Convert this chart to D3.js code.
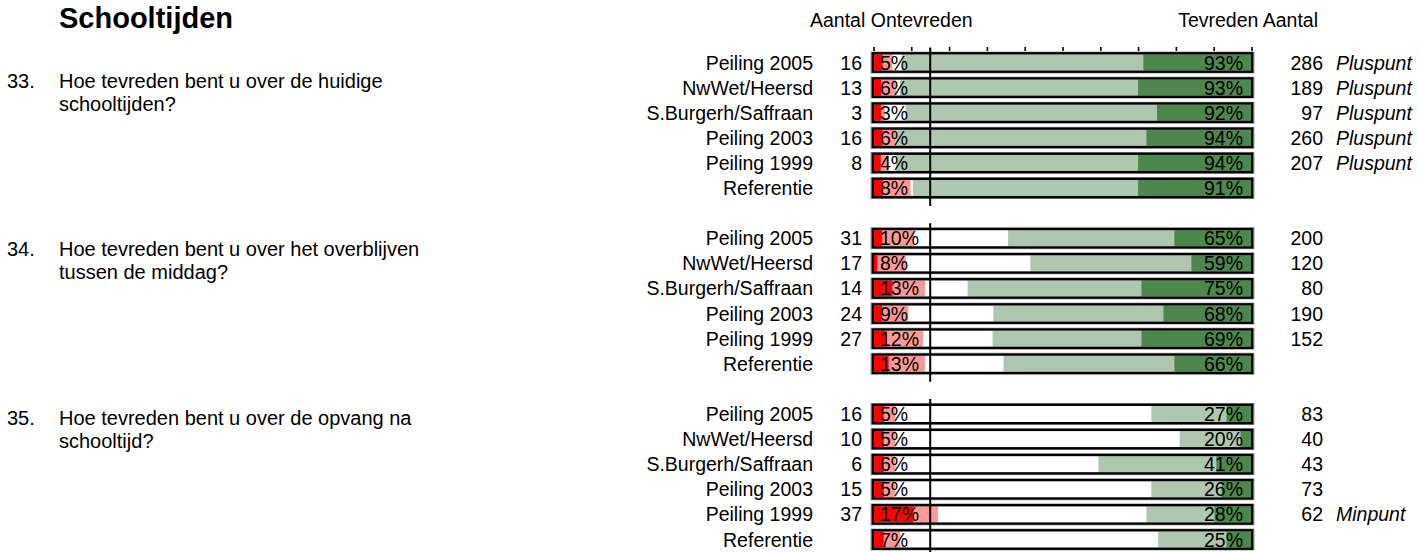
<!DOCTYPE html>
<html>
<head>
<meta charset="utf-8">
<script src="https://cdn.jsdelivr.net/npm/d3@7"></script>
<style>
  body { margin: 0; background: #fff; }
  svg text { font-family: "Liberation Sans", Arial, sans-serif; fill: #000; }
</style>
</head>
<body>
<svg width="1418" height="552"></svg>
<script>
// data
const title = "Schooltijden";
const questionNumbers = ["33.", "34.", "35."];
const questionLines = [
    ["Hoe tevreden bent u over de huidige", "schooltijden?"],
    ["Hoe tevreden bent u over het overblijven", "tussen de middag?"],
    ["Hoe tevreden bent u over de opvang na", "schooltijd?"]
];
const categories = ["Peiling 2005", "NwWet/Heersd", "S.Burgerh/Saffraan", "Peiling 2003", "Peiling 1999", "Referentie"];

const countOntevreden = [[16, 13, 3, 16, 8, null], [31, 17, 14, 24, 27, null], [16, 10, 6, 15, 37, null]];
const countTevreden = [[286, 189, 97, 260, 207, null], [200, 120, 80, 190, 152, null], [83, 40, 43, 73, 62, null]];
const remarks = [
    ["Pluspunt", "Pluspunt", "Pluspunt", "Pluspunt", "Pluspunt", ""],
    ["", "", "", "", "", ""],
    ["", "", "", "", "Minpunt", ""]
];

// percentages as printed
const pctOntevreden = [[5, 6, 3, 6, 4, 8], [10, 8, 13, 9, 12, 13], [5, 5, 6, 5, 17, 7]];
const pctTevreden = [[93, 93, 92, 94, 94, 91], [65, 59, 75, 68, 69, 66], [27, 20, 41, 26, 28, 25]];

// bar lengths as drawn (%)
const zeerOntevreden = [[2.4, 2, 2, 2.4, 1.9, 2.4], [2.3, 1, 5, 2.3, 3.4, 4], [2.7, 2.7, 2.7, 2.7, 10.5, 2.7]];
const ontevredenBar = [[5, 6, 3, 6, 4, 9.8], [10.7, 8.5, 13.6, 9.2, 13.1, 13.6], [5.8, 5.8, 5.8, 5.8, 17.1, 7.1]];
const tevredenBar = [[92.5, 93, 91.5, 94, 94, 89.6], [64.4, 58.5, 75.1, 68.3, 68.5, 65.6], [26.5, 19, 40.5, 26.5, 27.8, 24.7]];
const zeerTevreden = [[28.6, 30, 25, 27.8, 30, 30], [20.4, 15.9, 29.1, 23.3, 29.1, 20.4], [6.6, 2.9, 9.3, 7.9, 9.8, 6.6]];

const splitAt = 15;

// layout
const svg = d3.select("svg");
const x = d3.scaleLinear().domain([0, 100]).range([873.5, 1251.5]);
const rowY = d3.scaleLinear().domain([0, 19]).range([62.5, 539.5]);
const rowsPerGroup = 7;
const qBaseline = [88, 256, 425];
const fontSize = 19.5;

const colors = {
    zeerOnt: "#ff0000",
    ont: "#ff9999",
    tev: "#afc7af",
    zeerTev: "#4d874d"
};

svg.append("text")
    .attr("x", 59).attr("y", 28)
    .attr("font-size", 29).attr("font-weight", "bold")
    .text(title);

svg.append("text").attr("x", 810).attr("y", 27).attr("font-size", fontSize).text("Aantal Ontevreden");
svg.append("text").attr("x", 1318).attr("y", 27).attr("font-size", fontSize)
    .attr("text-anchor", "end").text("Tevreden Aantal");

// ticks on top of the first block
const tickAxis = svg.append("g")
    .attr("transform", "translate(0,51)")
    .call(d3.axisTop(x).tickValues(d3.range(0, 101, 10)).tickSize(4).tickFormat(""));
tickAxis.select(".domain").remove();
tickAxis.selectAll("line").attr("stroke", "#000").attr("stroke-width", 1.6);

const rows = [];
for (let g = 0; g < 3; g++) {
    for (let r = 0; r < categories.length; r++) {
        rows.push({ g, r, y: rowY(g * rowsPerGroup + r) });
    }
}

const h = 8;

const rowG = svg.selectAll("g.row")
    .data(rows)
    .enter().append("g").attr("class", "row");

// segments
rowG.append("rect")
    .attr("x", x(0)).attr("y", d => d.y - h)
    .attr("width", d => x(ontevredenBar[d.g][d.r]) - x(0)).attr("height", 2 * h)
    .attr("fill", colors.ont);
rowG.append("rect")
    .attr("x", x(0)).attr("y", d => d.y - h)
    .attr("width", d => x(zeerOntevreden[d.g][d.r]) - x(0)).attr("height", 2 * h)
    .attr("fill", colors.zeerOnt);
rowG.append("rect")
    .attr("x", d => x(100 - tevredenBar[d.g][d.r])).attr("y", d => d.y - h)
    .attr("width", d => x(100) - x(100 - tevredenBar[d.g][d.r])).attr("height", 2 * h)
    .attr("fill", colors.tev);
rowG.append("rect")
    .attr("x", d => x(100 - zeerTevreden[d.g][d.r])).attr("y", d => d.y - h)
    .attr("width", d => x(100) - x(100 - zeerTevreden[d.g][d.r])).attr("height", 2 * h)
    .attr("fill", colors.zeerTev);

// frames
rowG.append("rect")
    .attr("x", x(0) - 2.5).attr("y", d => d.y - 10.5)
    .attr("width", x(100) - x(0) + 5).attr("height", 21)
    .attr("fill", "none").attr("stroke", "#a0a0a0").attr("stroke-width", 1);
rowG.append("rect")
    .attr("x", x(0) - 0.8).attr("y", d => d.y - 9.2)
    .attr("width", x(100) - x(0) + 1.6).attr("height", 18.4)
    .attr("fill", "none").attr("stroke", "#000").attr("stroke-width", 2.4);

// texts
rowG.append("text")
    .attr("x", 813).attr("y", d => d.y + 7)
    .attr("text-anchor", "end").attr("font-size", fontSize)
    .text(d => categories[d.r]);
rowG.append("text")
    .attr("x", 862).attr("y", d => d.y + 7)
    .attr("text-anchor", "end").attr("font-size", fontSize)
    .text(d => countOntevreden[d.g][d.r] ?? "");
rowG.append("text")
    .attr("x", 880).attr("y", d => d.y + 7)
    .attr("font-size", fontSize)
    .text(d => pctOntevreden[d.g][d.r] + "%");
rowG.append("text")
    .attr("x", 1243).attr("y", d => d.y + 7)
    .attr("text-anchor", "end").attr("font-size", fontSize)
    .text(d => pctTevreden[d.g][d.r] + "%");
rowG.append("text")
    .attr("x", 1323).attr("y", d => d.y + 7)
    .attr("text-anchor", "end").attr("font-size", fontSize)
    .text(d => countTevreden[d.g][d.r] ?? "");
rowG.append("text")
    .attr("x", 1336).attr("y", d => d.y + 7)
    .attr("font-size", fontSize).attr("font-style", "italic")
    .text(d => remarks[d.g][d.r]);

// split lines between ontevreden and tevreden
for (let g = 0; g < 3; g++) {
    const y0 = rowY(g * rowsPerGroup) - 15;
    const y1 = Math.min(rowY(g * rowsPerGroup + categories.length - 1) + 18, 552);
    svg.append("line")
        .attr("x1", x(splitAt)).attr("x2", x(splitAt))
        .attr("y1", y0).attr("y2", y1)
        .attr("stroke", "#000").attr("stroke-width", 2);
}

// questions
questionNumbers.forEach((num, i) => {
    svg.append("text").attr("x", 7).attr("y", qBaseline[i]).attr("font-size", 20).text(num);
    questionLines[i].forEach((line, j) => {
        svg.append("text").attr("x", 59).attr("y", qBaseline[i] + j * 23).attr("font-size", 20).text(line);
    });
});
</script>
</body>
</html>
